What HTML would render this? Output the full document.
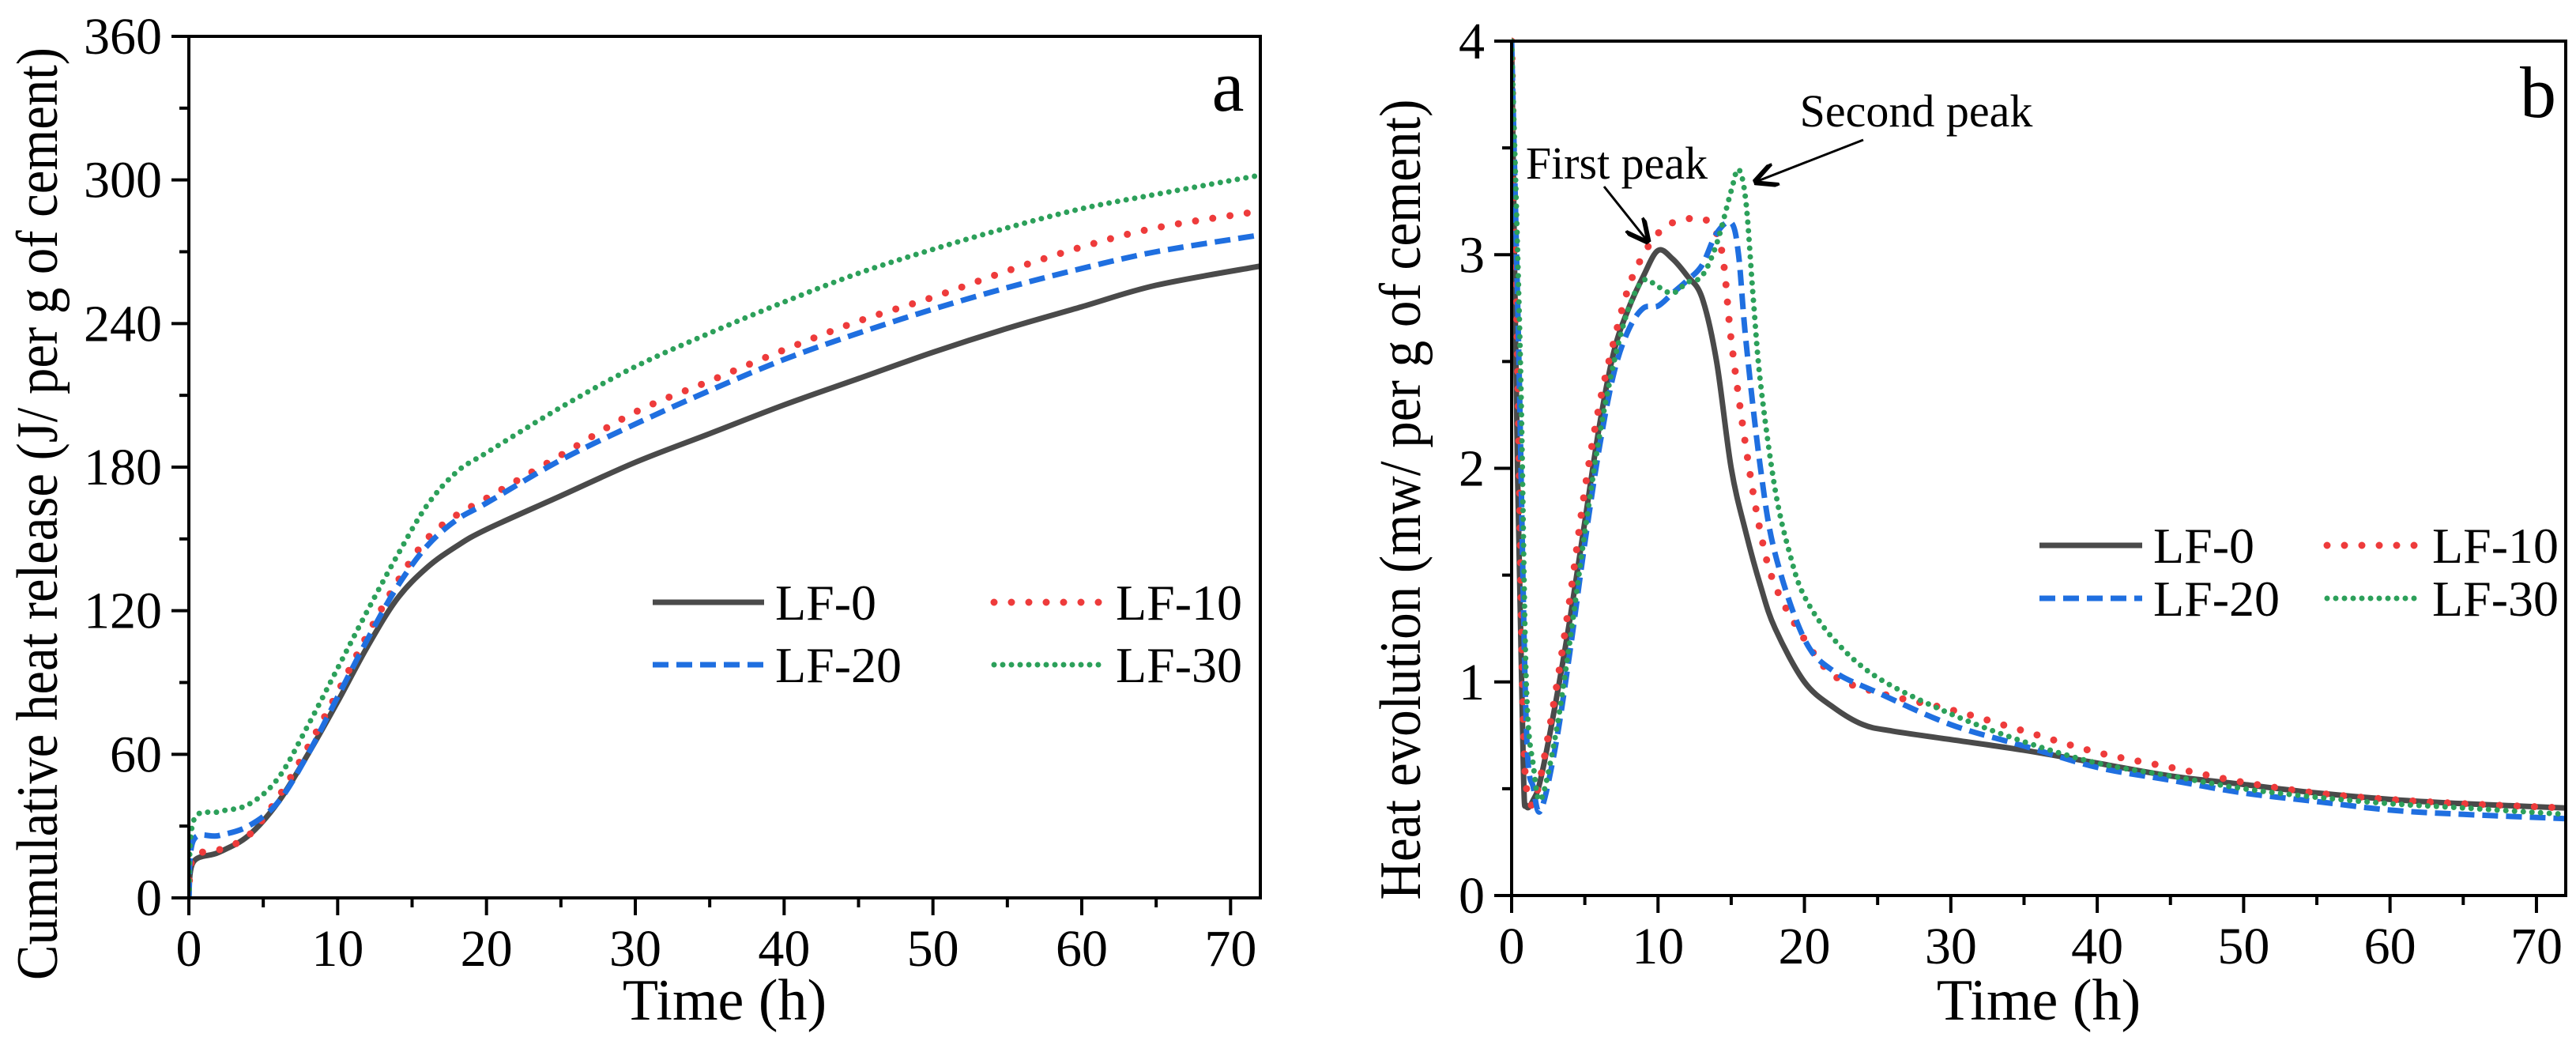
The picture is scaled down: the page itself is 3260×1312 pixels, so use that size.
<!DOCTYPE html>
<html><head><meta charset="utf-8"><style>
html,body{margin:0;padding:0;background:#fff;}
svg{display:block;font-family:"Liberation Serif",serif;}
</style></head><body>
<svg id="fig" width="3260" height="1312" viewBox="0 0 3260 1312" xmlns="http://www.w3.org/2000/svg"></svg>
<script>
// ---------- Panel a data (cumulative heat release) ----------
const aTime = [0,0.3,2,4,6,8,10,12,14,16,18,20,25,30,35,40,45,50,55,60,65,72];
const aLF0  = [0,15,19,26,40,60,82,105,125,138,147,154,168,182,194,206,217,228,238,247,256,264];
const aLF10 = [0,17,20,26,42,63,86,110,132,150,160,167,185,203,216,229,241,251,262,272,280,287];
const aLF20 = [0,24,26,30,40,60,84,108,130,147,158,165,183,198,212,225,236,246,255,263,270,277];
const aLF30 = [0,32,36,39,50,72,96,120,143,164,178,186,205,222,236,249,261,271,280,288,294,302];
const aYTicks = [0,60,120,180,240,300,360];
const xTicks = [0,10,20,30,40,50,60,70];

// ---------- Panel b data (heat evolution) ----------
const bT0  = [0,0.4,0.8,1,1.5,2,3,4,5,6,7,8,9,10,11,12,13,14,15,16,17,18,20,22,24,26,30,35,40,45,50,55,60,65,72];
const bLF0 = [4.0,2.0,0.6,0.42,0.45,0.55,0.9,1.3,1.75,2.2,2.55,2.75,2.9,3.02,2.98,2.9,2.8,2.5,2.0,1.7,1.45,1.25,1.0,0.88,0.8,0.77,0.73,0.68,0.62,0.56,0.52,0.48,0.45,0.43,0.41];
const bT10 = [0,0.4,0.8,1.2,1.8,3,4,5,6,7,8,9,10,11,13,14,14.5,15,16,17,18,20,22,25,30,35,40,45,50,55,60,65,72];
const bLF10= [4.0,2.5,0.8,0.45,0.5,0.95,1.4,1.9,2.3,2.6,2.85,3.0,3.1,3.15,3.17,3.1,2.95,2.6,2.1,1.7,1.45,1.2,1.03,0.95,0.87,0.77,0.67,0.6,0.53,0.48,0.45,0.43,0.41];
const bT20 = [0,0.5,1,1.5,2,3,4,5,6,7,8,9,10,11,12,13,14,15,15.5,16,17,18,20,22,25,30,35,40,45,50,55,60,65,72];
const bLF20= [4.0,2.5,0.8,0.5,0.4,0.7,1.15,1.65,2.1,2.45,2.65,2.75,2.76,2.82,2.88,2.95,3.1,3.15,3.0,2.6,2.0,1.6,1.2,1.05,0.95,0.8,0.7,0.6,0.54,0.48,0.44,0.4,0.38,0.36];
const bT30 = [0,0.6,1,1.5,2,3,4,5,6,7,8,9,10,11,12,13,14,15,15.5,16,16.5,17,18,19,20,22,25,30,35,40,45,50,55,60,65,72];
const bLF30= [4.0,2.5,1.0,0.6,0.45,0.75,1.2,1.7,2.15,2.5,2.75,2.88,2.85,2.82,2.87,2.9,3.05,3.3,3.4,3.25,2.8,2.4,1.9,1.6,1.4,1.2,1.02,0.85,0.72,0.62,0.56,0.5,0.46,0.43,0.41,0.38];
const bYTicks = [0,1,2,3,4];

const NS="http://www.w3.org/2000/svg";
const svg=document.getElementById('fig');
function mk(tag,attrs,parent){const e=document.createElementNS(NS,tag);for(const k in attrs)e.setAttribute(k,attrs[k]);(parent||svg).appendChild(e);return e;}

const styles={
 LF0:{stroke:'#4a4a4a',w:7,dash:null,cap:'butt'},
 LF10:{stroke:'#ee3b3b',w:9,dash:'0 22',cap:'round'},
 LF20:{stroke:'#1f6fe0',w:7,dash:'20 10',cap:'butt'},
 LF30:{stroke:'#2ca05a',w:7,dash:'0 11',cap:'round'}
};

function smoothPath(pts){
  let d=`M${pts[0][0]},${pts[0][1]}`;
  for(let i=0;i<pts.length-1;i++){
    const p0=pts[Math.max(0,i-1)],p1=pts[i],p2=pts[i+1],p3=pts[Math.min(pts.length-1,i+2)];
    const c1=[p1[0]+(p2[0]-p0[0])/6,p1[1]+(p2[1]-p0[1])/6];
    const c2=[p2[0]-(p3[0]-p1[0])/6,p2[1]-(p3[1]-p1[1])/6];
    d+=` C${c1[0]},${c1[1]} ${c2[0]},${c2[1]} ${p2[0]},${p2[1]}`;
  }
  return d;
}

function panel(cfg){
  const {id,L,R,T,B,xmax,ymax,yTicks,yMinorStep,series,yTitle,xTitle,letter,legend}=cfg;
  const g=mk('g',{});
  
  
  const sx=v=>L+(R-L)*v/xmax, sy=v=>B-(B-T)*v/ymax;
  const clip=mk('clipPath',{id:'clip'+id},g);
  mk('rect',{x:L,y:T-6,width:R-L,height:B-T+6},clip);
  const sg=mk('g',{'clip-path':`url(#clip${id})`},g);
  series.forEach(s=>{
    const st=styles[s.key];
    const pts=s.x.map((t,i)=>[sx(t),sy(s.y[i])]);
    const p=mk('path',{d:smoothPath(pts),fill:'none',stroke:st.stroke,'stroke-width':st.w,'stroke-linecap':st.cap,'stroke-linejoin':'round'},sg);
    if(st.dash)p.setAttribute('stroke-dasharray',st.dash);
    
    
  });
  const fr=mk('rect',{x:L,y:T,width:R-L,height:B-T,fill:'none',stroke:'#000','stroke-width':4},g);
  
  
  xTicks.forEach(v=>{
    mk('line',{x1:sx(v),x2:sx(v),y1:B,y2:B+22,stroke:'#000','stroke-width':4},g);
    const t=mk('text',{x:sx(v),y:B+86,'font-size':66,'text-anchor':'middle'},g);t.textContent=v;
    
    
  });
  for(let v=5;v<xmax;v+=10) mk('line',{x1:sx(v),x2:sx(v),y1:B,y2:B+12,stroke:'#000','stroke-width':4},g);
  yTicks.forEach(v=>{
    mk('line',{x1:L,x2:L-22,y1:sy(v),y2:sy(v),stroke:'#000','stroke-width':4},g);
    const t=mk('text',{x:L-34,y:sy(v)+22,'font-size':66,'text-anchor':'end'},g);t.textContent=v;
    
    
  });
  for(let v=yMinorStep;v<ymax;v+=yMinorStep*2) mk('line',{x1:L,x2:L-12,y1:sy(v),y2:sy(v),stroke:'#000','stroke-width':4},g);
  const xt=mk('text',{x:(L+R)/2,y:1290,'font-size':74,'text-anchor':'middle'},g);xt.textContent=xTitle;
  
  
  const yt=mk('text',{x:0,y:0,'font-size':74,'text-anchor':'middle',textLength:cfg.yTitleLen,lengthAdjust:'spacingAndGlyphs',transform:`translate(${cfg.yTitleX},${cfg.yTitleY}) rotate(-90)`},g);yt.textContent=yTitle;
  
  
  const lt=mk('text',{x:letter[0],y:letter[1],'font-size':92,'text-anchor':'middle'},g);lt.textContent=letter[2];
  
  
  const lg=mk('g',{},g);
  
  
  legend.forEach(e=>{
    const st=styles[e.key];
    const ln=mk('line',{x1:e.x1,x2:e.x2,y1:e.y,y2:e.y,stroke:st.stroke,'stroke-width':st.w,'stroke-linecap':st.cap},lg);
    if(st.dash)ln.setAttribute('stroke-dasharray',st.dash);
    
    
    const t=mk('text',{x:e.x2+14,y:e.y+22,'font-size':64},lg);t.textContent=e.label;
    
    
  });
  return {sx,sy,g};
}

panel({id:'a',L:239,R:1595,T:46,B:1136,xmax:72,ymax:360,yTicks:aYTicks,yMinorStep:30,
 series:[{key:'LF0',x:aTime,y:aLF0},{key:'LF10',x:aTime,y:aLF10},{key:'LF20',x:aTime,y:aLF20},{key:'LF30',x:aTime,y:aLF30}],
 yTitle:'Cumulative heat release (J/ per g of cement)',xTitle:'Time (h)',yTitleX:72,yTitleY:650,yTitleLen:1180,letter:[1554,140,'a'],
 legend:[{key:'LF0',label:'LF-0',x1:826,x2:967,y:762},{key:'LF10',label:'LF-10',x1:1258,x2:1398,y:762},
         {key:'LF20',label:'LF-20',x1:826,x2:967,y:841},{key:'LF30',label:'LF-30',x1:1258,x2:1398,y:841}]});

panel({id:'b',L:1913,R:3247,T:52,B:1133,xmax:72,ymax:4,yTicks:bYTicks,yMinorStep:0.5,
 series:[{key:'LF0',x:bT0,y:bLF0},{key:'LF10',x:bT10,y:bLF10},{key:'LF20',x:bT20,y:bLF20},{key:'LF30',x:bT30,y:bLF30}],
 yTitle:'Heat evolution (mw/ per g of cement)',xTitle:'Time  (h)',yTitleX:1797,yTitleY:632,yTitleLen:1013,letter:[3212,148,'b'],
 legend:[{key:'LF0',label:'LF-0',x1:2581,x2:2711,y:690},{key:'LF10',label:'LF-10',x1:2945,x2:3064,y:690},
         {key:'LF20',label:'LF-20',x1:2581,x2:2711,y:757},{key:'LF30',label:'LF-30',x1:2945,x2:3064,y:757}]});

const defs=mk('defs',{});
const mkr=mk('marker',{id:'arr',viewBox:'0 0 10 10',markerWidth:30,markerHeight:30,refX:9,refY:5,orient:'auto',markerUnits:'userSpaceOnUse'},defs);
mk('path',{d:'M0,0 L10,5 L0,10',fill:'none',stroke:'#000','stroke-width':2},mkr);
const t1=mk('text',{x:2046,y:226,'font-size':58,'text-anchor':'middle'});t1.textContent='First peak';


const a1=mk('line',{x1:2030,y1:236,x2:2085,y2:305,stroke:'#000','stroke-width':3,'marker-end':'url(#arr)'});


const t2=mk('text',{x:2425,y:160,'font-size':58,'text-anchor':'middle'});t2.textContent='Second peak';


const a2=mk('line',{x1:2358,y1:177,x2:2222,y2:230,stroke:'#000','stroke-width':3,'marker-end':'url(#arr)'});


</script>
</body></html>
